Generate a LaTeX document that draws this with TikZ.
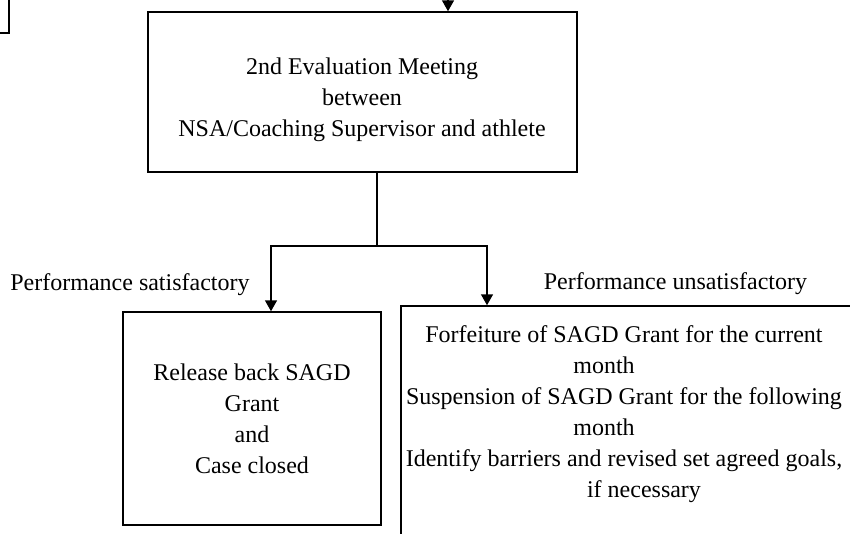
\documentclass[tikz,border=0pt]{standalone}
\usepackage{fontspec}
\setmainfont{Liberation Serif}
\usetikzlibrary{arrows.meta}
\begin{document}
\begin{tikzpicture}[x=1pt, y=-1pt, line width=1.5pt,
  frame/.style={draw, inner sep=0pt},
  txt/.style={align=center, font=\fontsize{24}{31}\selectfont},
  >={Triangle[length=11pt, width=12pt]}]
\useasboundingbox (0,0) rectangle (850,533);
\clip (0,0) rectangle (850,533);
% nodes
\node[frame, minimum width=100pt, minimum height=86pt] (prev) at (-41,-10) {};
\node[frame, minimum width=429pt, minimum height=160pt] (meet) at (362.5,92) {};
\node[txt] (meettxt) at (362,100) {2nd Evaluation Meeting\\between\\NSA/Coaching Supervisor and athlete};
\node[frame, txt, minimum width=258pt, minimum height=213pt] (pass) at (252,418.5) {Release back SAGD\\Grant\\and\\Case closed};
\node[frame, minimum width=479pt, minimum height=254pt] (fail) at (640.5,433) {};
\node[txt] (failtxt) at (624,414) {Forfeiture of SAGD Grant for the current\\month\rule{40pt}{0pt}\\Suspension of SAGD Grant for the following\\month\rule{40pt}{0pt}\\Identify barriers and revised set agreed goals,\\\hspace*{40pt}if necessary};
\node[txt] (satlbl) at (130,285) {Performance satisfactory};
\node[txt] (unsatlbl) at (675.5,284) {Performance unsatisfactory};
\coordinate (from) at (448,-20);
\coordinate (split) at (377,246);
\coordinate (lsplit) at (271,246);
\coordinate (rsplit) at (487,246);
% arrows
\draw[->] (from) -- (from |- meet.north);
\draw (split |- meet.south) -- (split);
\draw[->] (split) -| (lsplit |- pass.north);
\draw[->] (split) -| (rsplit |- fail.north);
\end{tikzpicture}
\end{document}
